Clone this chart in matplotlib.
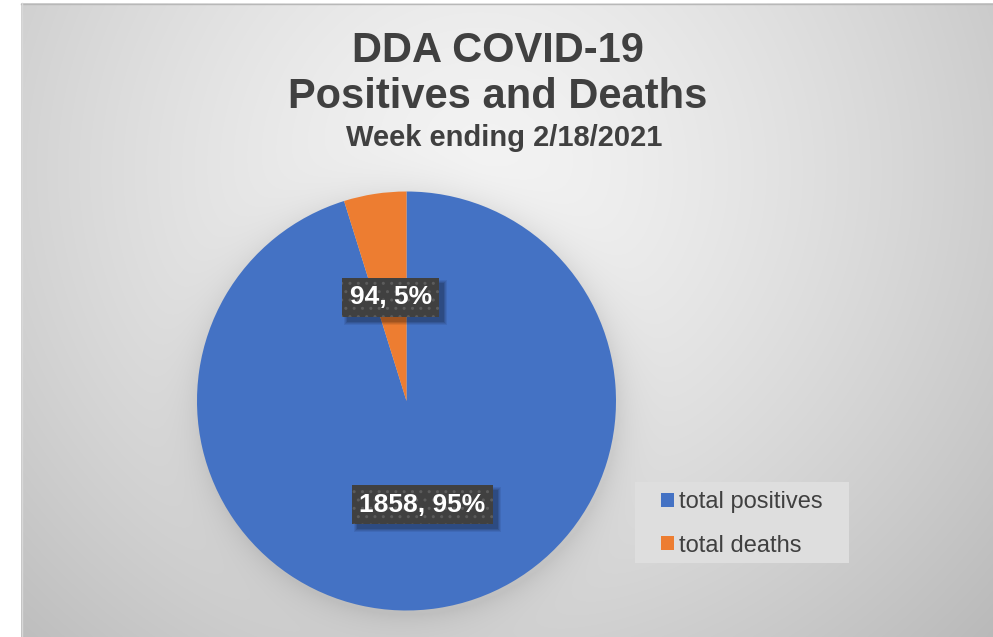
import numpy as np
import matplotlib
matplotlib.use("Agg")
import matplotlib.pyplot as plt
from matplotlib.patches import Rectangle

# ---- data ----
categories = ["total positives", "total deaths"]
values = [1858, 94]
colors = ["#4472C4", "#ED7D31"]
title_lines = ["DDA COVID-19", "Positives and Deaths", "Week ending 2/18/2021"]

W, H = 993, 637
DPI = 100
plt.rcParams['font.family'] = ['Liberation Sans', 'DejaVu Sans']
fig = plt.figure(figsize=(W / DPI, H / DPI), dpi=DPI)
fig.patch.set_facecolor("white")

def fx(px):
    return px / W

def fy(py):
    return 1 - py / H

# ---- background gradient (chart area) ----
x0, x1, y0, y1 = 21, 993, 3, 637
bg = fig.add_axes([fx(x0), fy(y1), fx(x1 - x0), (y1 - y0) / H])
bg.set_axis_off()
xx, yy = np.meshgrid(np.arange(x0, x1), np.arange(y0, y1))
r = np.sqrt(((xx - 480) / 640.0) ** 2 + ((yy - 170) / 620.0) ** 2)
g = np.clip(0.955 - 0.2 * r ** 1.4, 0.72, 1)
# soft shadow halo around the pie
cx, cy, R = 406.5, 401, 209.5
d = np.sqrt((xx - cx - 2) ** 2 + (yy - cy - 4) ** 2) - R
halo = np.exp(-np.clip(d, 0, None) / 16.0) * 0.08
g = g - halo
img = np.dstack([g, g, g])
bg.imshow(img, aspect='auto', extent=[0, 1, 0, 1], interpolation='bilinear')
bg.set_xlim(0, 1); bg.set_ylim(0, 1)
# border lines
fig.add_artist(plt.Line2D([fx(x0), fx(x1)], [fy(y0 + 0.5)] * 2, color="#b8b8b8", lw=1))
fig.add_artist(plt.Line2D([fx(x0 + 0.5)] * 2, [fy(y0), fy(y1)], color="#d8d8d8", lw=1))

# ---- pie ----
ax = fig.add_axes([fx(cx - R), fy(cy + R), 2 * R / W, 2 * R / H])
ax.set_axis_off()

total = sum(values)

def fmt(p):
    v = int(round(p * total / 100.0))
    return f"{v}, {p:.0f}%"

wedges, texts, autotexts = ax.pie(
    values, colors=colors, startangle=90, counterclock=False,
    autopct=fmt, pctdistance=0.5, radius=1.0,
    wedgeprops=dict(linewidth=0, zorder=2),
    textprops=dict(color="white", fontsize=19, fontweight="bold"))
ax.set_xlim(-1, 1); ax.set_ylim(-1, 1)

for t in autotexts:
    t.set_zorder(6)
    t.set_bbox(dict(boxstyle="square,pad=0.28", fc="#404040", ec="#5c5c5c",
                    lw=0, hatch=".."))

# shadows behind label boxes
fig.canvas.draw()
inv = fig.transFigure.inverted()
for t in autotexts:
    ext = t.get_bbox_patch().get_window_extent()
    (a0, b0), (a1, b1) = inv.transform([[ext.x0 + 5, ext.y0 - 5], [ext.x1 + 5, ext.y1 - 5]])
    for k, a in enumerate([0.07, 0.08, 0.10, 0.12]):
        e = (3 - k) / W
        ev = (3 - k) / H
        fig.add_artist(Rectangle((a0 - e, b0 - ev), a1 - a0 + 2 * e, b1 - b0 + 2 * ev,
                                 transform=fig.transFigure, fc="black", alpha=a,
                                 ec="none", zorder=4))
    fig.add_artist(t)  # keep label above its shadow
    t.set_transform(ax.transData)
    t.set_zorder(10)

# ---- title ----
tc = "#404040"
fig.text(fx(498), fy(62), title_lines[0], ha="center", va="baseline",
         fontsize=30, fontweight="bold", color=tc)
fig.text(fx(498), fy(108), title_lines[1], ha="center", va="baseline",
         fontsize=30, fontweight="bold", color=tc)
fig.text(fx(504), fy(146), title_lines[2], ha="center", va="baseline",
         fontsize=21, fontweight="bold", color=tc)

# ---- legend ----
fig.add_artist(Rectangle((fx(635), fy(563)), fx(849 - 635), (563 - 482) / H,
                         transform=fig.transFigure, fc="#dedede", ec="none", zorder=1))
leg = fig.legend(wedges, categories, loc="upper left",
                 bbox_to_anchor=(fx(661), fy(491)), frameon=False,
                 fontsize=17, handlelength=0.55, handleheight=0.55,
                 handletextpad=0.2, labelspacing=0.92, borderpad=0,
                 borderaxespad=0)
for txt in leg.get_texts():
    txt.set_color(tc)
leg.set_zorder(3)

fig.savefig("out.png", dpi=DPI, facecolor="white")
